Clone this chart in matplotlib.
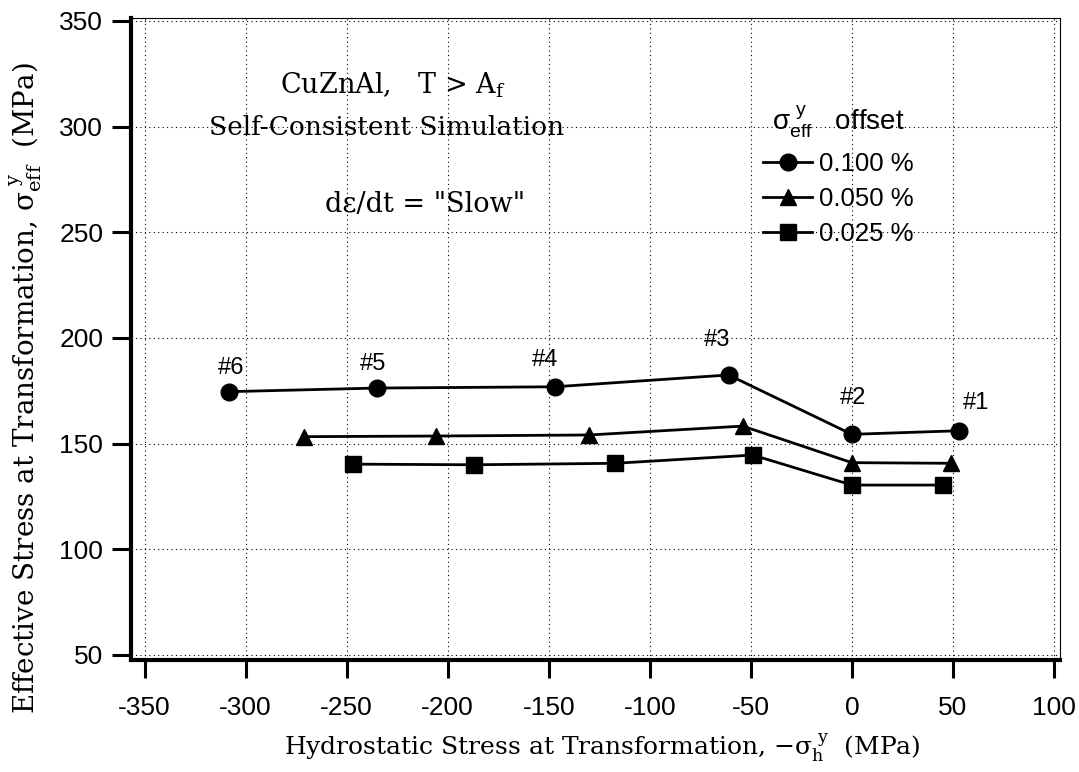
import matplotlib
matplotlib.use("Agg")
import matplotlib.pyplot as plt

plt.rcParams['mathtext.fontset'] = 'custom'
plt.rcParams['mathtext.rm'] = 'DejaVu Serif'
plt.rcParams['mathtext.it'] = 'DejaVu Serif:italic'
plt.rcParams['mathtext.sf'] = 'Liberation Sans'

# data
x_100 = [-308, -235, -147, -61, 0, 53]
y_100 = [174.6, 176.3, 176.9, 182.5, 154.4, 156.1]
x_050 = [-271, -206, -130, -54, 0, 49]
y_050 = [153.3, 153.6, 154.1, 158.3, 141.0, 140.7]
x_025 = [-247, -187, -117, -49, 0, 45]
y_025 = [140.3, 140.0, 140.7, 144.6, 130.4, 130.4]
point_names = ['#6', '#5', '#4', '#3', '#2', '#1']
series_labels = ['0.100 %', '0.050 %', '0.025 %']

xticks = [-350, -300, -250, -200, -150, -100, -50, 0, 50, 100]
yticks = [50, 100, 150, 200, 250, 300, 350]

# label offsets (points) for the #n tags
tag_off = [(1, 17), (-3, 17), (-7, 19), (-8, 25), (1, 26), (12, 20)]

serif = 'DejaVu Serif'
sans = 'Liberation Sans'

fig = plt.figure(figsize=(10.79, 7.72), dpi=100)
ax = fig.add_axes([0.1214, 0.145, 0.8610, 0.8317])

ax.plot(x_100, y_100, '-o', color='black', lw=2.0, ms=12, label=series_labels[0])
ax.plot(x_050, y_050, '-^', color='black', lw=2.0, ms=12, label=series_labels[1])
ax.plot(x_025, y_025, '-s', color='black', lw=2.0, ms=11.5, label=series_labels[2])

for name, xv, yv, off in zip(point_names, x_100, y_100, tag_off):
    ax.annotate(name, (xv, yv), xytext=off, textcoords='offset points',
                ha='center', va='center', fontsize=17, family=sans)

ax.set_xlim(-356.7, 103)
ax.set_ylim(47.6, 351.4)
ax.set_xticks(xticks)
ax.set_yticks(yticks)
ax.set_xticklabels([str(v) for v in xticks], family=sans, fontsize=19)
ax.set_yticklabels([str(v) for v in yticks], family=sans, fontsize=19)
ax.tick_params(axis='x', direction='out', length=13, width=2.2, pad=13)
ax.tick_params(axis='y', direction='out', length=14, width=2.2, pad=6)

ax.grid(True, ls=(0, (1, 3)), color='black', lw=0.8)

for s in ['left', 'bottom']:
    ax.spines[s].set_linewidth(3.0)
for s in ['top', 'right']:
    ax.spines[s].set_linewidth(0.8)

ax.set_xlabel('Hydrostatic Stress at Transformation, \u2212\u03c3$_{\\rm h}^{\\ \\rm y}$  (MPa)',
              family=serif, fontsize=18)
ax.set_ylabel('Effective Stress at Transformation, \u03c3$_{\\rm eff}^{\\ \\rm y}$  (MPa)',
              family=serif, fontsize=20)
ax.xaxis.set_label_coords(0.507, -0.112)
ax.yaxis.set_label_coords(-0.094, 0.423)

ax.text(-227, 315.8, 'CuZnAl,   T > A$_{\\rm f}$', family=serif, fontsize=19.5,
        ha='center', va='baseline')
ax.text(-230, 296, 'Self-Consistent Simulation', family=serif, fontsize=19,
        ha='center', va='baseline')
ax.text(-211, 259.6, 'd\u03b5/dt = "Slow"', family=serif, fontsize=19.5,
        ha='center', va='baseline')

leg = ax.legend(loc='upper left', bbox_to_anchor=(0.667, 0.886), frameon=False,
                prop={'family': sans, 'size': 18.5}, handlelength=1.87,
                handletextpad=0.3, labelspacing=0.44, borderpad=0,
                title='\u03c3$_{\\mathsf{eff}}^{\\ \\mathsf{y}}$   offset',
                title_fontproperties={'family': sans, 'size': 20})

fig.savefig('out.png', dpi=100)
